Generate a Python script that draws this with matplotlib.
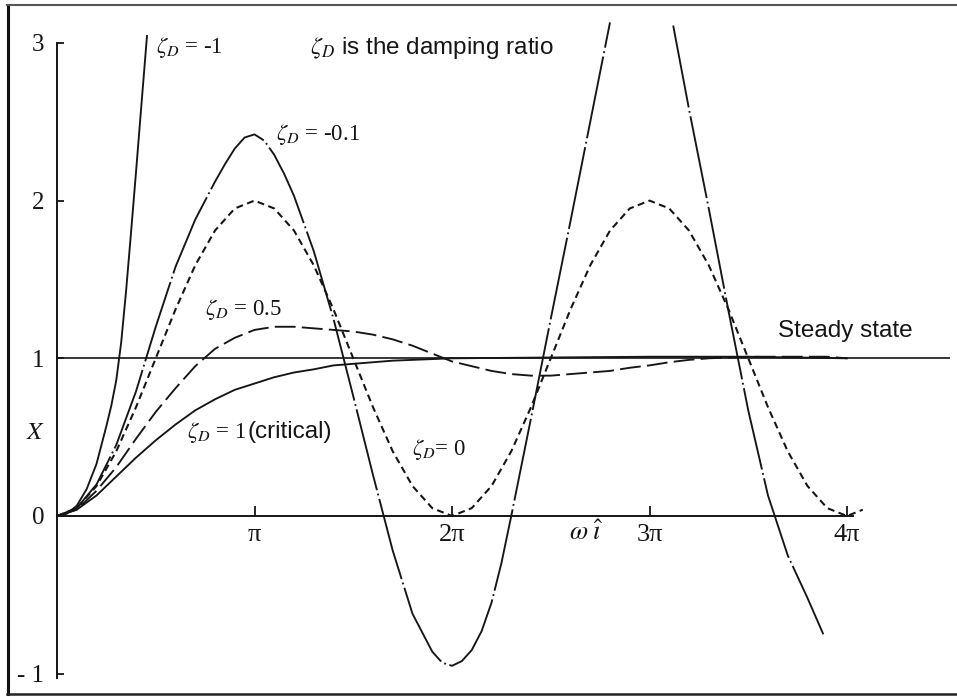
import numpy as np
import matplotlib
matplotlib.use("Agg")
import matplotlib.pyplot as plt
from matplotlib.lines import Line2D

plt.rcParams['mathtext.fontset'] = 'stix'
plt.rcParams['lines.scale_dashes'] = False

# ---------------- data (x in units of pi) ----------------
zeta_m1_x = [0, 0.05, 0.1, 0.15, 0.2, 0.25, 0.275, 0.3, 0.325, 0.35, 0.375, 0.4, 0.425, 0.456]
zeta_m1_y = [0, 0.015, 0.065, 0.17, 0.33, 0.57, 0.70, 0.86, 1.10, 1.43, 1.80, 2.18, 2.57, 3.05]

nan = float('nan')
zeta_m01_x = [0, 0.1, 0.2, 0.3, 0.4, 0.5, 0.6, 0.7, 0.8, 0.85, 0.9, 0.95, 1.0, 1.05,
              1.1, 1.15, 1.2, 1.3, 1.4, 1.5, 1.6, 1.7, 1.8, 1.9, 1.95, 2.0, 2.05,
              2.1, 2.15, 2.2, 2.25, 2.3, 2.4, 2.5, 2.6, 2.7, 2.8, nan,
              3.12, 3.2, 3.3, 3.4, 3.5, 3.6, 3.7, 3.8, 3.88]
zeta_m01_y = [0, 0.05, 0.2, 0.45, 0.79, 1.2, 1.58, 1.88, 2.12, 2.23, 2.33, 2.40, 2.42, 2.38,
              2.29, 2.17, 2.03, 1.68, 1.25, 0.76, 0.26, -0.22, -0.62, -0.86, -0.93, -0.95, -0.92,
              -0.85, -0.73, -0.55, -0.30, 0.0, 0.62, 1.25, 1.87, 2.50, 3.13, nan,
              3.11, 2.58, 1.95, 1.30, 0.67, 0.13, -0.25, -0.52, -0.75]

zeta_0_x = [0.0, 0.1, 0.2, 0.3, 0.4, 0.5, 0.6, 0.7, 0.8, 0.9, 1.0, 1.1, 1.2, 1.3, 1.4,
            1.5, 1.6, 1.7, 1.8, 1.9, 2.0, 2.1, 2.2, 2.3, 2.4, 2.5, 2.6, 2.7, 2.8, 2.9,
            3.0, 3.1, 3.2, 3.3, 3.4, 3.5, 3.6, 3.7, 3.8, 3.9, 4.0, 4.08]
zeta_0_y = [0, 0.05, 0.19, 0.41, 0.69, 1.0, 1.31, 1.59, 1.81, 1.95, 2.0, 1.95, 1.81, 1.59, 1.31,
            1.0, 0.69, 0.41, 0.19, 0.05, 0.0, 0.05, 0.19, 0.41, 0.69, 1.0, 1.31, 1.59, 1.81, 1.95,
            2.0, 1.95, 1.81, 1.59, 1.31, 1.0, 0.69, 0.41, 0.19, 0.05, 0.0, 0.04]

zeta_05_x = [0.0, 0.1, 0.2, 0.3, 0.4, 0.5, 0.6, 0.7, 0.8, 0.9, 1.0, 1.1, 1.2, 1.3, 1.4,
             1.5, 1.6, 1.7, 1.8, 1.9, 2.0, 2.1, 2.2, 2.3, 2.4, 2.5, 2.6, 2.7, 2.8, 2.9,
             3.0, 3.1, 3.2, 3.3, 3.4, 3.5, 3.6, 3.7, 3.8, 3.9, 4.0]
zeta_05_y = [0, 0.04, 0.16, 0.31, 0.49, 0.66, 0.81, 0.95, 1.06, 1.13, 1.18, 1.20, 1.20, 1.19, 1.18,
             1.17, 1.15, 1.12, 1.08, 1.03, 0.98, 0.95, 0.92, 0.90, 0.89, 0.89, 0.90, 0.91, 0.92, 0.94,
             0.955, 0.975, 0.99, 1.0, 1.005, 1.01, 1.01, 1.01, 1.01, 1.01, 1.0]

zeta_1_x = [0.0, 0.1, 0.2, 0.3, 0.4, 0.5, 0.6, 0.7, 0.8, 0.9, 1.0, 1.1, 1.2, 1.3, 1.4,
            1.5, 1.6, 1.7, 1.8, 1.9, 2.0, 2.5, 3.0, 3.5, 4.0]
zeta_1_y = [0, 0.04, 0.13, 0.25, 0.37, 0.48, 0.58, 0.67, 0.74, 0.80, 0.84, 0.88, 0.91, 0.93, 0.955,
            0.965, 0.975, 0.985, 0.99, 0.995, 1.0, 1.005, 1.01, 1.01, 1.0]

steady_value = 1.0
steady_end = 4.52

y_ticks = [-1, 0, 1, 2, 3]
y_tick_labels = ['- 1', '0', '1', '2', '3']
x_ticks = [1, 2, 3, 4]
x_tick_labels = ['\u03c0', '2\u03c0', '3\u03c0', '4\u03c0']

# ---------------- figure ----------------
W, H = 957, 697
fig = plt.figure(figsize=(W / 100, H / 100), dpi=100)
ax = fig.add_axes([0, 0, 1, 1])
px_per_x = 197.5
px_per_y = 157.7
x0_px, y0_px = 57, 516
ax.set_xlim(-x0_px / px_per_x, (W - x0_px) / px_per_x)
ax.set_ylim(-(H - y0_px) / px_per_y, y0_px / px_per_y)

ink = '#151515'
lw = 1.35

ax.plot(zeta_m1_x, zeta_m1_y, color=ink, lw=lw, solid_capstyle='butt')
ax.plot(zeta_m01_x, zeta_m01_y, color=ink, lw=lw, linestyle=(0, (60, 2.6, 1.3, 2.6)))
ax.plot(zeta_0_x, zeta_0_y, color=ink, lw=lw * 1.1, linestyle=(0, (5, 3.2)))
ax.plot(zeta_05_x, zeta_05_y, color=ink, lw=lw, linestyle=(0, (15, 4.5)))
ax.plot(zeta_1_x, zeta_1_y, color=ink, lw=lw)
ax.hlines(steady_value, 0, steady_end, color=ink, lw=1.2)

# axes spines
for s in ['top', 'right']:
    ax.spines[s].set_visible(False)
ax.spines['left'].set_position(('data', 0))
ax.spines['bottom'].set_position(('data', 0))
ax.spines['left'].set_bounds(-1.03, 3.0)
ax.spines['bottom'].set_bounds(0, 4.03)
ax.spines['left'].set_linewidth(1.4)
ax.spines['bottom'].set_linewidth(1.4)
ax.spines['left'].set_color(ink)
ax.spines['bottom'].set_color(ink)

ax.set_yticks(y_ticks)
ax.set_yticklabels(y_tick_labels, family='Liberation Serif', fontsize=18)
ax.set_xticks(x_ticks)
ax.set_xticklabels(x_tick_labels, family='Liberation Serif', fontsize=19)
ax.tick_params(axis='y', direction='in', length=5, width=1.3, pad=9, colors=ink)
ax.tick_params(axis='x', direction='in', length=7, width=1.3, pad=6, colors=ink)
ax.patch.set_visible(False)

serif = 'Liberation Serif'
sans = 'Liberation Sans'
ax.text(0.50, 2.97, r'$\zeta_D$ = -1', family=serif, fontsize=16.5, va='center', ha='left', color=ink)
ax.text(1.28, 2.97, r'$\zeta_D$ is the damping ratio', family=sans, fontsize=17.5,
        va='center', ha='left', color=ink)
ax.text(1.11, 2.42, r'$\zeta_D$ = -0.1', family=serif, fontsize=16.5, va='center', ha='left', color=ink)
ax.text(0.75, 1.31, r'$\zeta_D$ = 0.5', family=serif, fontsize=16.5, va='center', ha='left', color=ink)
ax.text(3.65, 1.17, 'Steady state', family=sans, fontsize=17.5, va='center', ha='left', color=ink)
ax.text(0.66, 0.53, r'$\zeta_D$ = 1', family=serif, fontsize=16.5, va='center', ha='left', color=ink)
ax.text(0.967, 0.53, '(critical)', family=sans, fontsize=17.5, va='center', ha='left', color=ink)
ax.text(1.80, 0.42, r'$\zeta_D$= 0', family=serif, fontsize=16.5, va='center', ha='left', color=ink)
ax.text(-0.111, 0.53, r'$X$', fontsize=18, va='center', ha='center', color=ink)
ax.text(2.68, -0.11, r'$\omega\;\hat{\imath}$', fontsize=19, va='center', ha='center', color=ink)

# page frame of the scanned figure
fig.add_artist(Line2D([8 / W, 8 / W], [1 - 5 / H, 1 - 694 / H], transform=fig.transFigure,
                      color='#111111', lw=2.2))
fig.add_artist(Line2D([7 / W, 1], [1 - 5 / H, 1 - 5 / H], transform=fig.transFigure,
                      color='#555555', lw=1.5))
fig.add_artist(Line2D([7 / W, 1], [1 - 694 / H, 1 - 694 / H], transform=fig.transFigure,
                      color='#222222', lw=1.8))

fig.savefig('out.png', dpi=100, facecolor='white')
